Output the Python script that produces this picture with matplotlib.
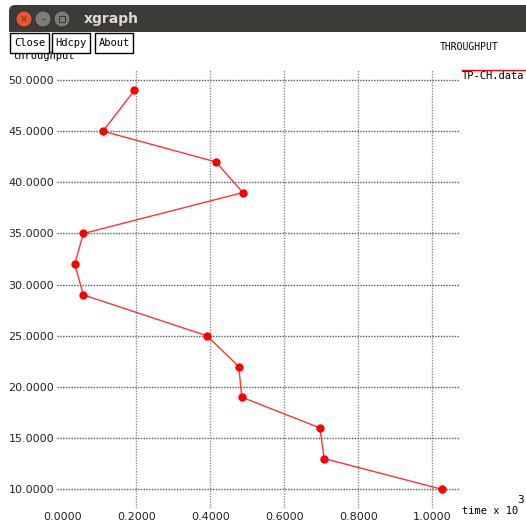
import matplotlib
matplotlib.use('Agg')
import matplotlib.pyplot as plt
from matplotlib.patches import Rectangle, FancyBboxPatch, Circle

# TP-CH.data : time (x 10^3) vs throughput
time_k = [0.195, 0.110, 0.415, 0.488, 0.057, 0.0335, 0.057, 0.391, 0.477, 0.485, 0.696, 0.708, 1.026]
throughput = [49, 45, 42, 39, 35, 32, 29, 25, 22, 19, 16, 13, 10]

x_ticks = [0.0, 0.2, 0.4, 0.6, 0.8, 1.0]
y_ticks = [10, 15, 20, 25, 30, 35, 40, 45, 50]

W, H = 526, 522


def px(x, y):
    return x / W, 1 - y / H


fig = plt.figure(figsize=(W / 100, H / 100), dpi=100)
fig.patch.set_facecolor('white')

# plotting area in window pixels
left, right, top, bottom = 57, 460, 70, 508
ax = fig.add_axes([left / W, 1 - bottom / H, (right - left) / W, (bottom - top) / H])
ax.set_xlim(-0.0143, 1.0749)
ax.set_ylim(8.17, 50.98)
for s in ax.spines.values():
    s.set_visible(False)

dots = (0, (1, 1))
for xv in x_ticks[1:]:
    ax.axvline(xv, color='#8a8a8a', lw=1, ls=dots, zorder=1)
for yv in y_ticks:
    ax.axhline(yv, color='#555555', lw=1, ls=dots, zorder=1)

ax.plot(time_k, throughput, color='#ff3333', lw=1, marker='o', ms=5,
        mfc='red', mec='red', zorder=3)

ax.set_xticks(x_ticks)
ax.set_xticklabels(['%.4f' % v for v in x_ticks])
ax.set_yticks(y_ticks)
ax.set_yticklabels(['%.4f' % v for v in y_ticks])
ax.tick_params(length=0, labelsize=8, colors='#222222')
ax.tick_params(axis='y', pad=2)
ax.tick_params(axis='x', pad=3)

mono = 'DejaVu Sans Mono'

# axis titles, plot title and legend
fig.text(*px(12, 56), 'throughput', family=mono, fontsize=7.5, va='center', zorder=1)
fig.text(*px(440, 47), 'THROUGHPUT', family=mono, fontsize=7, va='center')
fig.add_artist(plt.Line2D([462 / W, 526 / W], [1 - 69.5 / H] * 2, color='red', lw=1))
fig.text(*px(462, 76), 'TP-CH.data', family=mono, fontsize=7.5, va='center')
fig.text(*px(462, 511), 'time x 10', family=mono, fontsize=7.5, va='center')
fig.text(*px(517, 500), '3', family=mono, fontsize=8, va='center')

# buttons
for label, x0, x1 in [('Close', 10, 49), ('Hdcpy', 52, 90), ('About', 95, 133)]:
    fig.add_artist(Rectangle(px(x0, 53), (x1 - x0) / W, 20 / H, transform=fig.transFigure,
                             facecolor='white', edgecolor='black', lw=1, zorder=2))
    fig.text(*px((x0 + x1) / 2, 43.5), label, family=mono, fontsize=7.5,
             ha='center', va='center', zorder=3)

# window title bar
fig.add_artist(FancyBboxPatch(px(9, 32), (W + 10 - 9) / W, 27 / H,
                              boxstyle='round,pad=0,rounding_size=0.012',
                              transform=fig.transFigure, facecolor='#3c3b37',
                              edgecolor='none', zorder=4))
fig.add_artist(Rectangle(px(9, 32), (W - 9) / W, 6 / H, transform=fig.transFigure,
                         facecolor='#3c3b37', edgecolor='none', zorder=4))
for cx, col in [(24, '#e9552f'), (43, '#7d7c78'), (62, '#7d7c78')]:
    fig.add_artist(Circle(px(cx, 19), 8 / W, transform=fig.transFigure,
                          facecolor=col, edgecolor='#2a2a28', lw=0.5, zorder=5))
fig.text(*px(24, 19), '×', color='#6a2a18', fontsize=7, ha='center', va='center', zorder=6)
fig.text(*px(43, 19), '–', color='#3c3b37', fontsize=8, ha='center', va='center', zorder=6)
fig.add_artist(Rectangle(px(59, 22), 6 / W, 6 / H, transform=fig.transFigure,
                         facecolor='none', edgecolor='#3c3b37', lw=0.8, zorder=6))
fig.text(*px(84, 19), 'xgraph', color='#dfdbd2', fontsize=10, weight='bold',
         va='center', zorder=6)

fig.savefig('out.png', dpi=100)
